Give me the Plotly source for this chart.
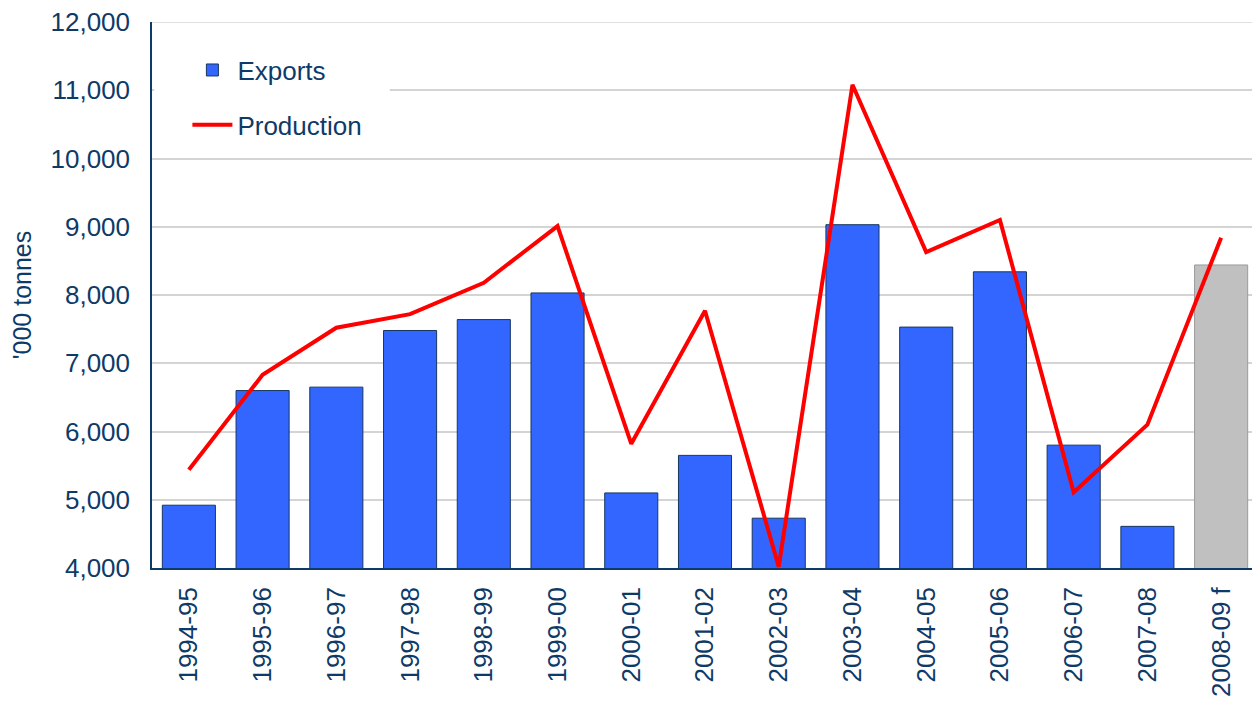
import plotly.graph_objects as go

categories = ["1994-95", "1995-96", "1996-97", "1997-98", "1998-99", "1999-00",
              "2000-01", "2001-02", "2002-03", "2003-04", "2004-05", "2005-06",
              "2006-07", "2007-08", "2008-09 f"]
exports = [4920, 6600, 6650, 7480, 7640, 8030, 5100, 5650, 4730, 9030,
           7530, 8340, 5800, 4610, 8440]
production = [5440, 6830, 7520, 7720, 8180, 9010, 5820, 7770, 4020, 11080,
              8630, 9100, 5110, 6100, 8840]
yticks = [4000, 5000, 6000, 7000, 8000, 9000, 10000, 11000, 12000]

NAVY = "#0E3A68"
GRID = "#D4D4D4"
FONT = "Liberation Sans, Arial, sans-serif"
FS = 26

bar_colors = ["#3366FF"] * (len(categories) - 1) + ["#C0C0C0"]
bar_lines = ["#17375E"] * (len(categories) - 1) + ["#9A9A9A"]

fig = go.Figure()
fig.add_trace(go.Bar(
    x=categories, y=exports, name="Exports",
    marker=dict(color=bar_colors, line=dict(color=bar_lines, width=1)),
    legendgroup="a",
))
fig.add_trace(go.Scatter(
    x=categories, y=production, name="Production", mode="lines",
    line=dict(color="#FF0000", width=4), cliponaxis=False,
    legendgroup="b",
))

# top gridline (at the last tick) which plotly omits at the range edge
fig.add_shape(type="line", xref="paper", yref="y",
              x0=0, x1=1, y0=yticks[-1], y1=yticks[-1],
              line=dict(color=GRID, width=1.5), layer="below")
# white panel behind the legend (covers gridline as in the original)
fig.add_shape(type="rect", xref="paper", yref="paper",
              x0=0.002, x1=0.215, y0=0.77, y1=0.985,
              fillcolor="white", line=dict(width=0), layer="above")

fig.update_layout(
    width=1252, height=699,
    margin=dict(l=144, r=2, t=14, b=139),
    paper_bgcolor="white", plot_bgcolor="white",
    font=dict(family=FONT, size=FS, color=NAVY),
    bargap=0.28,
    showlegend=True,
    legend=dict(x=0.032, y=0.955, xanchor="left", yanchor="top",
                bgcolor="rgba(0,0,0,0)", borderwidth=0,
                font=dict(size=FS, color=NAVY),
                tracegroupgap=18, traceorder="grouped",
                itemwidth=40),
)
fig.update_yaxes(
    range=[yticks[0], yticks[-1]], tickvals=yticks, tickformat=",d",
    showgrid=True, gridcolor=GRID, gridwidth=1.5,
    showline=True, linecolor=NAVY, linewidth=1.5,
    ticks="", ticklabelstandoff=15, automargin=False,
    ticklabeloverflow="allow",
    title=dict(text="'000 tonnes", font=dict(size=FS - 1, color=NAVY), standoff=16),
    zeroline=False,
)
fig.update_xaxes(
    type="category", tickangle=-90, showline=True, linecolor=NAVY, linewidth=1.5,
    ticks="", ticklabelstandoff=7, showgrid=False, automargin=False,
    ticklabeloverflow="allow",
    range=[-0.5, len(categories) - 0.5],
)

fig.write_html("out.html")
